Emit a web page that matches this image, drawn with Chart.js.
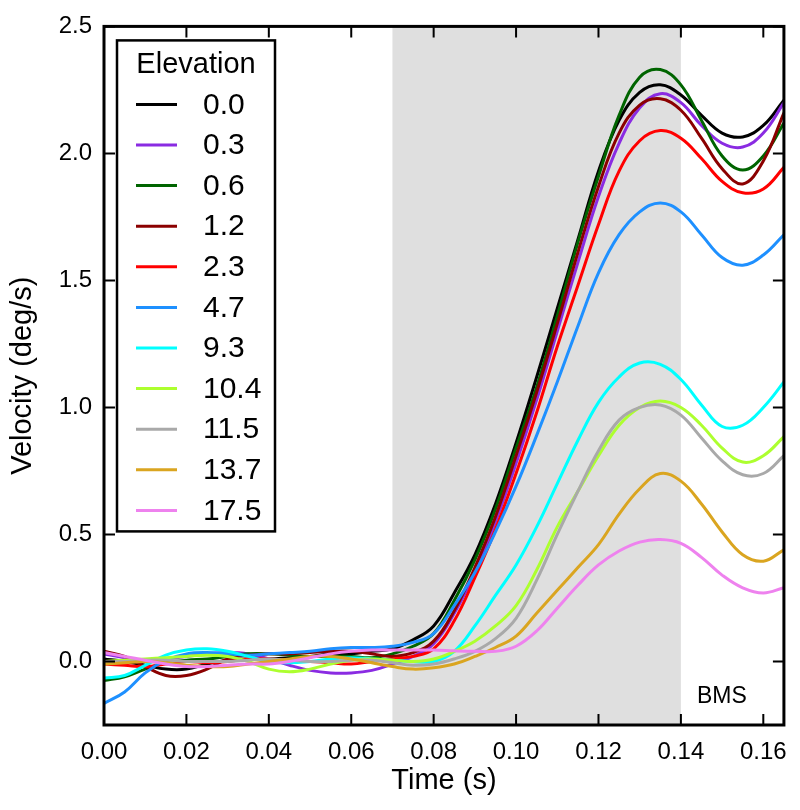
<!DOCTYPE html>
<html>
<head>
<meta charset="utf-8">
<script src="https://cdn.jsdelivr.net/npm/chart.js@4.4.1/dist/chart.umd.min.js"></script>
<style>
  html, body { margin: 0; padding: 0; background: #fff; }
  canvas { display: block; }
</style>
</head>
<body>
<canvas id="velChart" width="800" height="810"></canvas>
<script>
// Tiempo (s) y velocidad (deg/s) para cada elevación
const times = [0, 0.005, 0.01, 0.015, 0.02, 0.025, 0.03, 0.035, 0.04, 0.045, 0.05, 0.055, 0.06, 0.065, 0.07, 0.075, 0.08, 0.085, 0.09, 0.095, 0.1, 0.105, 0.11, 0.115, 0.12, 0.125, 0.13, 0.135, 0.14, 0.145, 0.15, 0.155, 0.16, 0.165];

const elevLabels = ['0.0', '0.3', '0.6', '1.2', '2.3', '4.7', '9.3', '10.4', '11.5', '13.7', '17.5'];
const elevColors = ['#000000', '#8a2be2', '#006400', '#8b0000', '#ff0000', '#1e90ff', '#00ffff', '#adff2f', '#a9a9a9', '#daa520', '#ee82ee'];

const elev00 = [0.01, 0.0, -0.015, -0.03, -0.03, -0.01, 0.005, 0.01, 0.01, 0.015, 0.02, 0.03, 0.03, 0.04, 0.05, 0.085, 0.14, 0.27, 0.42, 0.62, 0.86, 1.12, 1.39, 1.66, 1.93, 2.13, 2.24, 2.27, 2.23, 2.15, 2.08, 2.065, 2.11, 2.21];
const elev03 = [0.03, 0.015, 0.0, 0.01, 0.02, 0.03, 0.035, 0.03, 0.01, -0.015, -0.035, -0.045, -0.045, -0.035, -0.01, 0.02, 0.07, 0.19, 0.35, 0.55, 0.78, 1.03, 1.30, 1.57, 1.83, 2.04, 2.18, 2.235, 2.20, 2.11, 2.04, 2.025, 2.08, 2.20];
const elev06 = [-0.075, -0.06, -0.03, -0.005, 0.005, 0.01, 0.02, 0.03, 0.03, 0.025, 0.02, 0.02, 0.02, 0.015, 0.03, 0.06, 0.11, 0.24, 0.40, 0.60, 0.84, 1.08, 1.36, 1.65, 1.91, 2.15, 2.30, 2.33, 2.27, 2.13, 1.99, 1.935, 1.99, 2.12];
const elev12 = [0.04, 0.02, -0.02, -0.055, -0.055, -0.03, 0.01, 0.025, 0.03, 0.03, 0.035, 0.04, 0.04, 0.03, 0.02, 0.035, 0.08, 0.2, 0.37, 0.57, 0.81, 1.06, 1.33, 1.61, 1.87, 2.08, 2.19, 2.215, 2.17, 2.06, 1.94, 1.88, 1.97, 2.16];
const elev23 = [-0.01, -0.015, -0.02, -0.01, 0.0, -0.005, 0.0, 0.01, 0.01, 0.005, 0.0, -0.005, -0.01, 0.0, 0.01, 0.02, 0.05, 0.16, 0.33, 0.52, 0.74, 0.98, 1.24, 1.48, 1.72, 1.93, 2.05, 2.09, 2.06, 1.98, 1.89, 1.845, 1.86, 1.945];
const elev47 = [-0.165, -0.12, -0.045, 0.005, 0.03, 0.035, 0.03, 0.025, 0.03, 0.035, 0.04, 0.05, 0.055, 0.055, 0.06, 0.075, 0.11, 0.22, 0.35, 0.51, 0.69, 0.89, 1.10, 1.32, 1.53, 1.68, 1.77, 1.805, 1.77, 1.68, 1.59, 1.56, 1.60, 1.68];
const elev93 = [-0.065, -0.055, -0.015, 0.025, 0.045, 0.05, 0.04, 0.02, 0.0, -0.005, 0.0, 0.01, 0.015, 0.01, 0.005, 0.0, 0.0, 0.04, 0.14, 0.26, 0.38, 0.53, 0.70, 0.87, 1.02, 1.12, 1.175, 1.17, 1.11, 1.01, 0.925, 0.93, 1.0, 1.10];
const elev104 = [0.0, 0.005, 0.01, 0.015, 0.02, 0.025, 0.02, 0.0, -0.03, -0.04, -0.03, -0.01, 0.005, 0.01, 0.005, 0.0, 0.01, 0.04, 0.08, 0.14, 0.22, 0.36, 0.53, 0.67, 0.81, 0.93, 1.0, 1.025, 1.0, 0.93, 0.84, 0.785, 0.81, 0.885];
const elev115 = [0.0, 0.0, 0.005, 0.005, 0.0, 0.0, 0.0, 0.005, 0.01, 0.005, 0.0, 0.0, 0.005, 0.005, -0.005, -0.015, -0.01, 0.01, 0.04, 0.09, 0.17, 0.32, 0.50, 0.67, 0.83, 0.95, 1.0, 1.01, 0.97, 0.88, 0.79, 0.735, 0.74, 0.81];
const elev137 = [-0.01, -0.005, 0.0, -0.005, -0.015, -0.02, -0.02, -0.01, 0.0, 0.01, 0.02, 0.02, 0.01, -0.005, -0.02, -0.03, -0.025, -0.01, 0.02, 0.055, 0.1, 0.19, 0.28, 0.37, 0.46, 0.58, 0.68, 0.74, 0.71, 0.62, 0.51, 0.42, 0.395, 0.44];
const elev175 = [0.035, 0.02, 0.005, -0.01, -0.02, -0.02, -0.015, -0.01, -0.01, 0.0, 0.015, 0.03, 0.04, 0.045, 0.045, 0.045, 0.045, 0.042, 0.04, 0.04, 0.06, 0.12, 0.21, 0.3, 0.38, 0.435, 0.47, 0.48, 0.465, 0.41, 0.34, 0.29, 0.27, 0.29];

const series = [elev00, elev03, elev06, elev12, elev23, elev47, elev93, elev104, elev115, elev137, elev175];

// Ventana sombreada y etiqueta
const shadeStart = 0.07;
const shadeEnd = 0.14;
const cornerLabel = 'BMS';
const legendTitle = 'Elevation';

const FONT = "'Liberation Sans', Arial, Helvetica, sans-serif";

const datasets = series.map((vals, i) => ({
  label: elevLabels[i],
  data: vals.map((v, k) => ({ x: times[k], y: v })),
  borderColor: elevColors[i],
  backgroundColor: elevColors[i],
  borderWidth: 3,
  pointRadius: 0,
  fill: false,
  tension: 0.4,
  order: series.length - i   // las últimas series quedan encima
}));

// Banda gris de fondo
const shadePlugin = {
  id: 'shade',
  beforeDatasetsDraw(chart) {
    const { ctx, chartArea, scales } = chart;
    const x0 = scales.x.getPixelForValue(shadeStart);
    const x1 = scales.x.getPixelForValue(shadeEnd);
    ctx.save();
    ctx.fillStyle = '#dfdfdf';
    ctx.fillRect(x0, chartArea.top, x1 - x0, chartArea.bottom - chartArea.top);
    ctx.restore();
  }
};

// Marco, ticks hacia dentro, leyenda y texto BMS
const framePlugin = {
  id: 'frame',
  afterDatasetsDraw(chart) {
    const { ctx, chartArea, scales } = chart;
    const { left, right, top, bottom } = chartArea;
    ctx.save();

    // ticks hacia dentro en los cuatro lados
    ctx.strokeStyle = '#000';
    ctx.lineWidth = 2;
    const tl = 11;
    scales.x.ticks.forEach(t => {
      const px = scales.x.getPixelForValue(t.value);
      ctx.beginPath();
      ctx.moveTo(px, bottom); ctx.lineTo(px, bottom - tl);
      ctx.moveTo(px, top); ctx.lineTo(px, top + tl);
      ctx.stroke();
    });
    scales.y.ticks.forEach(t => {
      const py = scales.y.getPixelForValue(t.value);
      ctx.beginPath();
      ctx.moveTo(left, py); ctx.lineTo(left + tl, py);
      ctx.moveTo(right, py); ctx.lineTo(right - tl, py);
      ctx.stroke();
    });

    // texto BMS
    ctx.fillStyle = '#000';
    ctx.font = '23px ' + FONT;
    ctx.textAlign = 'center';
    ctx.textBaseline = 'alphabetic';
    ctx.fillText(cornerLabel, right - 62, bottom - 22);

    // leyenda
    const bx = left + 13, by = top + 14, bw = 158, bh = 491;
    ctx.fillStyle = '#fff';
    ctx.fillRect(bx, by, bw, bh);
    ctx.lineWidth = 2.5;
    ctx.strokeStyle = '#000';
    ctx.strokeRect(bx, by, bw, bh);

    ctx.fillStyle = '#000';
    ctx.font = '29px ' + FONT;
    ctx.textAlign = 'center';
    ctx.textBaseline = 'middle';
    ctx.fillText(legendTitle, bx + bw / 2, by + 25);

    ctx.textAlign = 'left';
    ctx.font = '30px ' + FONT;
    chart.data.datasets.forEach((ds, i) => {
      const ry = by + 64 + i * 40.6;
      ctx.strokeStyle = ds.borderColor;
      ctx.lineWidth = 3;
      ctx.beginPath();
      ctx.moveTo(bx + 19, ry);
      ctx.lineTo(bx + 60, ry);
      ctx.stroke();
      ctx.fillStyle = '#000';
      ctx.fillText(ds.label, bx + 86, ry + 1);
    });

    // marco
    ctx.lineWidth = 3;
    ctx.strokeStyle = '#000';
    ctx.strokeRect(left, top, right - left, bottom - top);
    ctx.restore();
  }
};

new Chart(document.getElementById('velChart'), {
  type: 'line',
  data: { datasets: datasets },
  options: {
    responsive: false,
    animation: false,
    devicePixelRatio: 1,
    layout: { padding: { top: 18, right: 11, left: 0, bottom: 0 } },
    plugins: {
      legend: { display: false },
      tooltip: { enabled: false }
    },
    scales: {
      x: {
        type: 'linear',
        min: 0,
        max: 0.165,
        grid: { display: false, drawTicks: false },
        border: { display: false },
        ticks: {
          stepSize: 0.02,
          includeBounds: false,
          padding: 13,
          color: '#000',
          font: { family: FONT, size: 24 },
          maxRotation: 0,
          callback: v => v.toFixed(2)
        },
        title: {
          display: true,
          text: 'Time (s)',
          color: '#000',
          font: { family: FONT, size: 29 },
          padding: { top: 0, bottom: 12 }
        },
        afterFit(scale) { scale.height = 85; }
      },
      y: {
        min: -0.25,
        max: 2.5,
        grid: { display: false, drawTicks: false },
        border: { display: false },
        ticks: {
          stepSize: 0.5,
          includeBounds: false,
          padding: 12,
          color: '#000',
          font: { family: FONT, size: 24 },
          callback: v => v.toFixed(1)
        },
        title: {
          display: true,
          text: 'Velocity (deg/s)',
          color: '#000',
          font: { family: FONT, size: 29 },
          padding: { top: 6, bottom: 0 }
        },
        afterFit(scale) { scale.width = 104; }
      }
    }
  },
  plugins: [shadePlugin, framePlugin]
});
</script>
</body>
</html>
